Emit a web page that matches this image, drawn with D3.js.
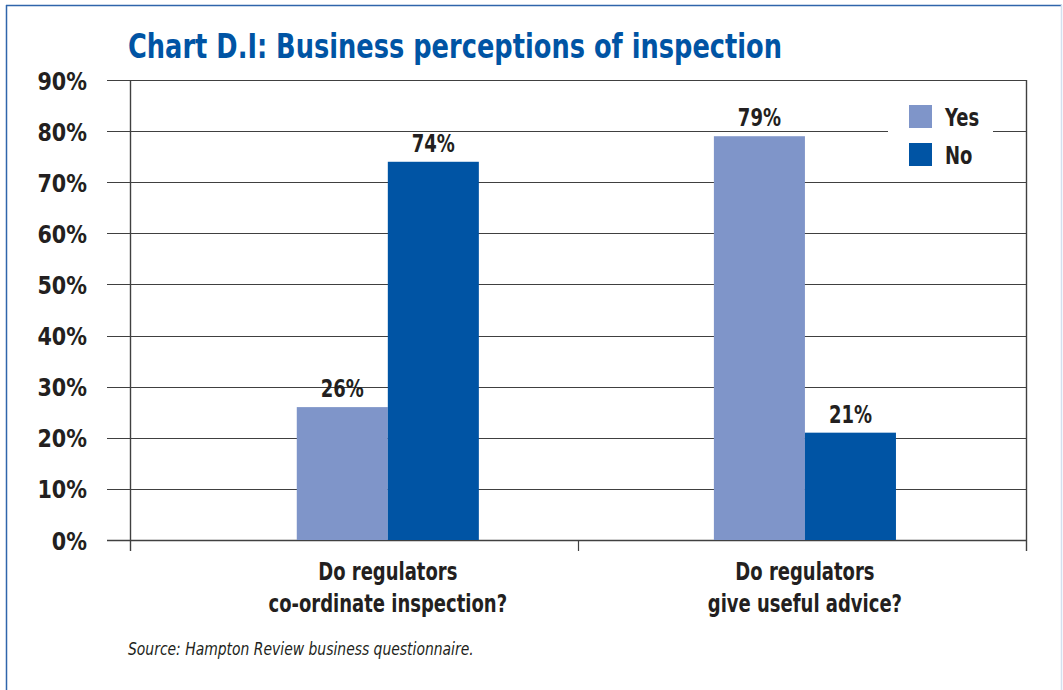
<!DOCTYPE html>
<html>
<head>
<meta charset="utf-8">
<script src="https://cdn.jsdelivr.net/npm/d3@7"></script>
<style>
  html, body { margin: 0; padding: 0; background: #ffffff; }
  svg { display: block; }
  text { font-family: "Liberation Sans Narrow", "DejaVu Sans Condensed", "Liberation Sans", sans-serif; }
</style>
</head>
<body>
<svg id="chart" width="1063" height="690"></svg>
<script>
// ---- data ----
const titleText = "Chart D.I: Business perceptions of inspection";
const categories = ["Do regulators\nco-ordinate inspection?", "Do regulators\ngive useful advice?"];
const seriesNames = ["Yes", "No"];
const yesValues = [26, 79];
const noValues = [74, 21];
const yTickValues = [0, 10, 20, 30, 40, 50, 60, 70, 80, 90];
const sourceText = "Source: Hampton Review business questionnaire.";

const colors = { Yes: "#7f95c9", No: "#0054a4" };
const textColor = "#231f20";
const titleColor = "#0054a4";
const lineColor = "#404040";

const svg = d3.select("#chart");

// horizontally condense text to mimic a narrow typeface
function condense(sel, factor) {
  sel.each(function () {
    const len = this.getComputedTextLength();
    d3.select(this).attr("textLength", len * factor).attr("lengthAdjust", "spacingAndGlyphs");
  });
}

// frame
svg.append("line").attr("x1", 6).attr("x2", 1062).attr("y1", 5.5).attr("y2", 5.5)
  .attr("stroke", "#2f65ab").attr("stroke-width", 1.5);
svg.append("line").attr("x1", 6.5).attr("x2", 6.5).attr("y1", 5).attr("y2", 690)
  .attr("stroke", "#2f65ab").attr("stroke-width", 1.5);
svg.append("line").attr("x1", 1061.5).attr("x2", 1061.5).attr("y1", 5).attr("y2", 690)
  .attr("stroke", "#d3e0ef").attr("stroke-width", 1.5);

// scales
const plotLeft = 130, plotRight = 1027, plotTop = 80, plotBottom = 540;
const y = d3.scaleLinear().domain([0, 90]).range([plotBottom, plotTop]);
const x0 = d3.scaleBand().domain(categories).range([plotLeft, plotRight])
  .paddingInner(0.5635).paddingOuter(0.357).align(0.56);
const x1 = d3.scaleBand().domain(seriesNames).range([0, x0.bandwidth()]).padding(0);

// title
svg.append("text")
  .attr("x", 128).attr("y", 58)
  .attr("fill", titleColor)
  .attr("font-size", 34).attr("font-weight", "bold")
  .attr("textLength", 654).attr("lengthAdjust", "spacingAndGlyphs")
  .text(titleText);

// gridlines (extend left of axis as ticks)
const grid = svg.append("g");
grid.selectAll("line.grid").data(yTickValues).join("line")
  .attr("class", "grid")
  .attr("x1", 107).attr("x2", plotRight)
  .attr("y1", d => Math.round(y(d)) + 0.5).attr("y2", d => Math.round(y(d)) + 0.5)
  .attr("stroke", lineColor).attr("stroke-width", d => d === 0 ? 1.6 : 1.2);

// y axis labels via d3 axis
const yAxis = d3.axisLeft(y).tickValues(yTickValues).tickSize(0).tickPadding(0)
  .tickFormat(d => d + "%");
const yg = svg.append("g").attr("transform", `translate(87,0)`).call(yAxis);
yg.select(".domain").remove();
yg.selectAll("text")
  .attr("font-size", 25).attr("font-weight", "bold").attr("fill", textColor)
  .attr("font-family", "'Liberation Sans Narrow', 'DejaVu Sans Condensed', sans-serif")
  .attr("dy", "0.36em")
  .call(condense, 0.92);

// left and right vertical axis lines
svg.append("line").attr("x1", plotLeft + 0.5).attr("x2", plotLeft + 0.5)
  .attr("y1", plotTop).attr("y2", 551).attr("stroke", lineColor).attr("stroke-width", 1.4);
svg.append("line").attr("x1", plotRight - 0.5).attr("x2", plotRight - 0.5)
  .attr("y1", plotTop).attr("y2", 551).attr("stroke", lineColor).attr("stroke-width", 1.4);
// middle category divider tick
const dividerX = (plotLeft + plotRight) / 2;
svg.append("line").attr("x1", dividerX).attr("x2", dividerX)
  .attr("y1", plotBottom).attr("y2", 551).attr("stroke", lineColor).attr("stroke-width", 1.2);

// legend box (white, covers gridline)
const legend = svg.append("g");
legend.append("rect").attr("x", 888).attr("y", 96).attr("width", 105).attr("height", 80)
  .attr("fill", "#ffffff");
seriesNames.forEach((s, i) => {
  legend.append("rect").attr("x", 909).attr("y", 105 + i * 38).attr("width", 23).attr("height", 23)
    .attr("fill", colors[s]);
  legend.append("text").attr("x", 945).attr("y", 126 + i * 38)
    .attr("font-size", 25).attr("font-weight", "bold").attr("fill", textColor)
    .text(s)
    .call(condense, 0.8);
});

// bars
const data = categories.map((c, i) => ({ cat: c, values: [
  { key: "Yes", value: yesValues[i] }, { key: "No", value: noValues[i] } ] }));

const groups = svg.append("g").selectAll("g").data(data).join("g")
  .attr("transform", d => `translate(${x0(d.cat)},0)`);
groups.selectAll("rect").data(d => d.values).join("rect")
  .attr("x", d => x1(d.key)).attr("width", x1.bandwidth())
  .attr("y", d => y(d.value)).attr("height", d => y(0) - y(d.value))
  .attr("fill", d => colors[d.key]);
groups.selectAll("text").data(d => d.values).join("text")
  .attr("x", d => x1(d.key) + x1.bandwidth() / 2)
  .attr("y", d => y(d.value) - 10)
  .attr("text-anchor", "middle")
  .attr("font-size", 25).attr("font-weight", "bold").attr("fill", textColor)
  .text(d => d.value + "%")
  .call(condense, 0.8);

// category labels
data.forEach(d => {
  const cx = x0(d.cat) + x0.bandwidth() / 2;
  const lines = d.cat.split("\n");
  lines.forEach((ln, j) => {
    svg.append("text").attr("x", cx).attr("y", 580 + j * 32)
      .attr("text-anchor", "middle")
      .attr("font-size", 25).attr("font-weight", "bold").attr("fill", textColor)
      .text(ln)
      .call(condense, 0.8);
  });
});

// source
svg.append("text").attr("x", 128).attr("y", 655)
  .attr("font-size", 17).attr("font-style", "italic").attr("fill", textColor)
  .text(sourceText)
  .call(condense, 0.91);
</script>
</body>
</html>
